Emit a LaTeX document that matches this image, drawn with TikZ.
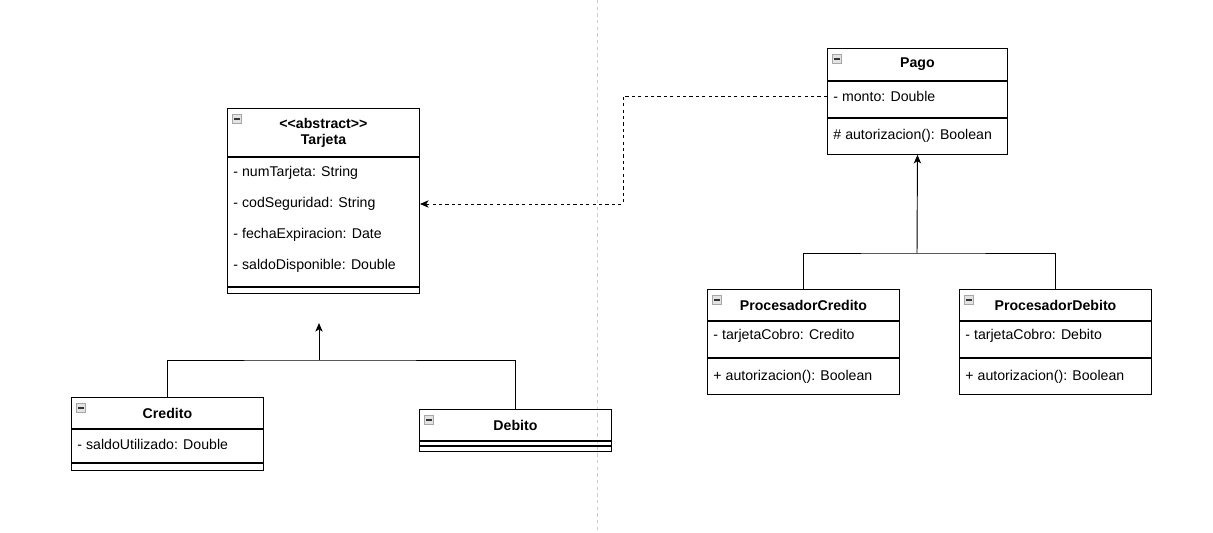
\documentclass[tikz,border=0pt]{standalone}
\usepackage{fontspec}
\newfontfamily\umlfont{Liberation Sans}
\usetikzlibrary{arrows,arrows.meta,positioning}

\begin{document}
\begin{tikzpicture}[>={Stealth[length=6.5pt,width=5.5pt,inset=1.8pt]},x=0.75pt,y=-0.75pt,line width=0.7pt]
\tikzset{box/.style={draw,rectangle,inner sep=0pt,minimum width=144pt}}
\tikzset{head/.style={box,align=center,font=\umlfont\bfseries\fontsize{10.6}{12}\selectfont}}
\tikzset{txt/.style={inner sep=0pt,anchor=west,font=\umlfont\fontsize{10.6}{12}\selectfont}}
\tikzset{collapse/.style={draw=gray!70,fill=gray!22,line width=0.5pt,minimum size=7pt,inner sep=0pt,anchor=north west,
  path picture={\draw[black!80,line width=0.8pt] ([xshift=1.6pt]path picture bounding box.west) -- ([xshift=-1.6pt]path picture bounding box.east);}}}
\tikzset{dep/.style={->,dash pattern=on 2.4pt off 2.4pt}}
\useasboundingbox (0,0) rectangle (1213,532);

% divider
\draw[gray!40,line width=0.5pt,dash pattern=on 2.5pt off 2.5pt] (597,0) -- (597,532);

% Tarjeta
\node[head,minimum height=36pt,anchor=north west] (tarjeta) at (227,108) {<<abstract>>\\Tarjeta};
\node[box,minimum height=96.75pt,below=0pt of tarjeta] (tarjeta-attr) {};
\node[box,minimum height=4.5pt,below=0pt of tarjeta-attr] (tarjeta-ops) {};
\node[collapse,below right=4.5pt and 3.75pt of tarjeta.north west] (tarjeta-icon) {};
\node[txt] (tarjeta-a1) at (233,173) {- numTarjeta: String};
\node[txt] (tarjeta-a2) at (233,204) {- codSeguridad: String};
\node[txt] (tarjeta-a3) at (233,235) {- fechaExpiracion: Date};
\node[txt] (tarjeta-a4) at (233,266) {- saldoDisponible: Double};

% Credito
\node[head,minimum height=23.25pt,anchor=north west] (credito) at (71,397) {Credito};
\node[box,minimum height=24.75pt,below=0pt of credito] (credito-attr) {};
\node[box,minimum height=5.25pt,below=0pt of credito-attr] (credito-ops) {};
\node[collapse,below right=4.5pt and 3.75pt of credito.north west] (credito-icon) {};
\node[txt] (credito-a1) at (77,444) {- saldoUtilizado: Double};

% Debito
\node[head,minimum height=23.25pt,anchor=north west] (debito) at (419,409) {Debito};
\node[box,minimum height=3pt,below=0pt of debito] (debito-attr) {};
\node[box,minimum height=3.75pt,below=0pt of debito-attr] (debito-ops) {};
\node[collapse,below right=4.5pt and 3.75pt of debito.north west] (debito-icon) {};

% Pago
\node[head,minimum width=135pt,minimum height=24pt,anchor=north west] (pago) at (827,48) {Pago};
\node[box,minimum width=135pt,minimum height=27pt,below=0pt of pago] (pago-attr) {};
\node[box,minimum width=135pt,minimum height=27pt,below=0pt of pago-attr] (pago-ops) {};
\node[collapse,below right=4.5pt and 3.75pt of pago.north west] (pago-icon) {};
\node[txt] (pago-a1) at (833,96) {- monto: Double};
\node[txt] (pago-m1) at (833,136) {\# autorizacion(): Boolean};

% ProcesadorCredito
\node[head,minimum height=23.25pt,anchor=north west] (pc) at (707,289) {ProcesadorCredito};
\node[box,minimum height=27pt,below=0pt of pc] (pc-attr) {};
\node[box,minimum height=27pt,below=0pt of pc-attr] (pc-ops) {};
\node[collapse,below right=4.5pt and 3.75pt of pc.north west] (pc-icon) {};
\node[txt] (pc-a1) at (713,336) {- tarjetaCobro: Credito};
\node[txt] (pc-m1) at (713,377) {+ autorizacion(): Boolean};

% ProcesadorDebito
\node[head,minimum height=23.25pt,anchor=north west] (pd) at (959,289) {ProcesadorDebito};
\node[box,minimum height=27pt,below=0pt of pd] (pd-attr) {};
\node[box,minimum height=27pt,below=0pt of pd-attr] (pd-ops) {};
\node[collapse,below right=4.5pt and 3.75pt of pd.north west] (pd-icon) {};
\node[txt] (pd-a1) at (965,336) {- tarjetaCobro: Debito};
\node[txt] (pd-m1) at (965,377) {+ autorizacion(): Boolean};

% herencia
\coordinate (tarjeta-base) at (319,360);
\coordinate (tarjeta-tip) at (319,323);
\draw (credito.north) |- (tarjeta-base) -| (debito.north);
\draw[->] (tarjeta-base) -- (tarjeta-tip);

\coordinate (pago-base) at (917,253);
\draw (pc.north) |- (pago-base) -| (pd.north);
\draw[->] (pago-base) -- (pago-ops.south);

% dependencia
\draw[dep] (pago-a1.west -| pago.west) -- ++(-204,0) |- (tarjeta-a2.west -| tarjeta.east);
\end{tikzpicture}
\end{document}
